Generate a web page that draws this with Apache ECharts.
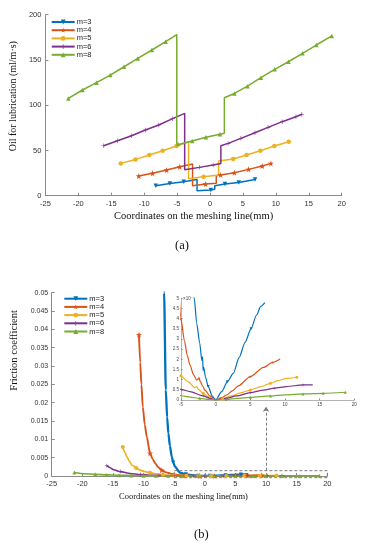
<!DOCTYPE html>
<html><head><meta charset="utf-8">
<script src="https://cdn.jsdelivr.net/npm/echarts@6/dist/echarts.min.js"></script>
<style>html,body{margin:0;padding:0;background:#fff}#c{width:369px;height:550px}</style>
</head><body><div id="c"></div>
<script>
// ---------- shared ----------
const seriesNames = ['m=3', 'm=4', 'm=5', 'm=6', 'm=8'];
const xTicks = [-25, 20, 5];          // min, max, step of the meshing-line axis

// ---------- (a) Oil for lubrication (ml/m·s) ----------
const oil3x = [-8.24, -6.1, -4.0, -1.97, -1.97, 0.12, 0.72, 0.72, 2.27, 4.36, 6.84];
const oil3y = [11.0, 13.6, 15.5, 18.0, 5.5, 6.3, 7.0, 11.0, 12.9, 14.7, 18.0];
const oil4x = [-10.82, -8.73, -6.59, -4.6, -2.65, -2.65, -0.67, 0.95, 0.95, 1.61, 3.7, 5.85, 7.94, 9.24];
const oil4y = [21.7, 24.7, 28.4, 32.0, 35.0, 11.0, 12.9, 13.8, 22.0, 23.0, 25.4, 29.1, 32.8, 35.7];
const oil5x = [-13.56, -11.32, -9.23, -7.19, -5.1, -3.26, -3.26, -0.97, 1.3, 1.3, 3.51, 5.55, 7.64, 9.78, 11.97];
const oil5y = [35.7, 40.1, 44.9, 49.7, 54.9, 59.7, 18.8, 21.0, 23.0, 38.4, 40.5, 44.9, 49.7, 54.9, 59.7];
const oil6x = [-16.14, -14.05, -11.91, -9.82, -7.78, -5.69, -3.85, -3.85, -1.62, 0.47, 1.65, 1.65, 2.75, 4.69, 6.83, 8.82, 10.96, 13.05, 13.95];
const oil6y = [55.2, 60.8, 66.3, 72.6, 78.1, 85.1, 91.0, 28.6, 31.3, 33.9, 35.7, 55.2, 57.8, 63.4, 69.6, 75.5, 81.8, 87.3, 90.0];
const oil8x = [-21.52, -19.38, -17.24, -15.15, -13.06, -10.97, -8.83, -6.74, -5.05, -5.05, -4.86, -2.72, -0.63, 1.51, 2.18, 2.18, 3.7, 5.69, 7.73, 9.82, 11.91, 14.05, 16.14, 18.5];
const oil8y = [107.5, 116.8, 124.9, 133.3, 142.5, 151.7, 161.0, 170.2, 178.0, 56.0, 57.0, 60.4, 64.5, 67.8, 68.9, 108.3, 113.0, 121.0, 130.4, 139.6, 148.0, 157.3, 166.5, 176.5];
const oilTicks = [0, 200, 50];

// ---------- (b) Friction coefficient ----------
const fr3x = [-7.0, -6.65, -6.37, -6.15, -5.95, -5.7, -5.4, -5.15, -4.85, -4.04, -3.5, -3.08, -2.74, -2.3, -2.0, -1.88, -1.82, -1.72, -1.45, -1.07, -0.5, 0, 0.86, 1.7, 2.54, 3.4, 4.22, 5.1, 5.9, 6.5, 7.1];
const fr3y = [0.09, 0.05, 0.0235, 0.016, 0.0116, 0.0082, 0.0053, 0.0037, 0.0025, 0.0009, 0.00065, 0.0005, 0.000377, 0.00028, 0.000195, 0.000212, 0.000145, 0.00016, 0.00011, 0.000066, 0.00002, 0, 0.000041, 0.00009, 0.000131, 0.00021, 0.000282, 0.00035, 0.000418, 0.00046, 0.000479];
const fr4x = [-10.75, -10.55, -10.35, -10.13, -9.8, -9.48, -8.94, -8.5, -8.12, -7.6, -7.03, -6.3, -5.67, -5.0, -4.5, -4.1, -3.7, -3.2, -2.74, -2.4, -2.2, -1.9, -1.55, -0.83, 0, 0.8, 1.6, 2.4, 3.27, 5.0, 6.9, 8.2, 9.3];
const fr4y = [0.0385, 0.031, 0.025, 0.0189, 0.014, 0.0107, 0.0062, 0.0046, 0.0035, 0.0024, 0.0016, 0.001, 0.0007, 0.000397, 0.00029, 0.00022, 0.000172, 0.000125, 0.000098, 0.000107, 0.00009, 0.00007, 0.000049, 0.00002, 0, 0.00001, 0.000025, 0.000045, 0.000069, 0.000115, 0.00016, 0.000185, 0.000202];
const fr5x = [-13.4, -13.0, -12.75, -12.3, -11.93, -11.2, -10.57, -9.8, -8.94, -7.8, -6.8, -6.0, -5.0, -4.0, -3.0, -2.7, -2.5, -1.8, -1.0, 0, 1.0, 2.3, 3.5, 5.0, 6.5, 7.9, 9.0, 10.2, 11.7];
const fr5y = [0.0079, 0.0063, 0.0053, 0.004, 0.003, 0.0022, 0.0016, 0.0012, 0.0009, 0.0006, 0.00035, 0.0002, 0.000118, 0.00009, 0.000061, 0.000066, 0.000052, 0.000033, 0.000015, 0, 0.000006, 0.00002, 0.000034, 0.000049, 0.000066, 0.000082, 0.000095, 0.000106, 0.000112];
const fr6x = [-16.0, -15.4, -14.9, -13.8, -12.2, -10.5, -9.0, -7.5, -6.0, -5.0, -3.7, -1.8, -0.8, 0, 1.5, 3.0, 5.0, 6.9, 8.5, 10.2, 12.6, 14.0];
const fr6y = [0.0028, 0.0022, 0.0017, 0.0012, 0.0007, 0.00042, 0.00026, 0.00015, 0.00008, 0.000052, 0.000041, 0.00002, 0.000008, 0, 0.000008, 0.00002, 0.000036, 0.000049, 0.000058, 0.000066, 0.000074, 0.000074];
const fr8x = [-21.3, -19.6, -17.9, -16.0, -14.0, -12.0, -10.0, -8.0, -6.0, -5.0, -3.7, -2.3, -1.0, 0, 1.5, 3.0, 5.0, 7.9, 10.0, 12.6, 15.5, 18.7];
const fr8y = [0.00095, 0.00062, 0.00045, 0.00032, 0.00022, 0.00015, 0.0001, 0.00007, 0.00004, 0.000021, 0.000014, 0.000008, 0.000003, 0, 0.000003, 0.000008, 0.000013, 0.00002, 0.000025, 0.00003, 0.000033, 0.000038];
const frTicks = [0, 0.05, 0.005];
// zoomed window (inset) and its dashed frame in the main plot
const insetX = [-5, 20, 5];
const insetY = [0, 0.0005, 0.00005];
const boxX = [-5, 20, 20, -5, -5];
const boxY = [-0.00046, -0.00046, 0.00145, 0.00145, -0.00046];
const pointerX = [10, 10];
const pointerY = [0.00145, 0.0189];

// ---------- styling ----------
const colors = ['#0072BD', '#D95319', '#EDB120', '#7E2F8E', '#77AC30'];
const STAR = 'path://M0,-10L2.35,-3.24L9.51,-3.09L3.8,1.24L5.88,8.09L0,4L-5.88,8.09L-3.8,1.24L-9.51,-3.09L-2.35,-3.24Z';
const PLUS = 'path://M-1.3,-10H1.3V-1.3H10V1.3H1.3V10H-1.3V1.3H-10V-1.3H-1.3Z';
const symbols = ['triangle', STAR, 'circle', PLUS, 'triangle'];
const rotations = [180, 0, 0, 0, 0];
const sans = 'Liberation Sans, Arial, sans-serif';
const serif = 'Liberation Serif, Times New Roman, serif';
const axisGray = '#8a8a8a';

const oilX = [oil3x, oil4x, oil5x, oil6x, oil8x];
const oilY = [oil3y, oil4y, oil5y, oil6y, oil8y];
const frX = [fr3x, fr4x, fr5x, fr6x, fr8x];
const frY = [fr3y, fr4y, fr5y, fr6y, fr8y];

function topData(xs, ys) {
  return xs.map((x, i) => {
    const it = { value: [x, ys[i]] };
    const jump = (i > 0 && xs[i - 1] === x) || (i < xs.length - 1 && xs[i + 1] === x);
    if (jump) it.symbol = 'none';
    return it;
  });
}
function spacedData(xs, ys, step) {
  let next = -Infinity;
  return xs.map((x, i) => {
    const it = { value: [x, ys[i]] };
    if (x >= next - 1e-9) next = x + step; else it.symbol = 'none';
    return it;
  });
}
function valAxis(gridIndex, t, extra) {
  return Object.assign({
    type: 'value', gridIndex, min: t[0], max: t[1], interval: t[2],
    axisLine: { show: true, onZero: false, lineStyle: { color: axisGray, width: 1 } },
    axisTick: { show: true, inside: true, length: 3, lineStyle: { color: axisGray } },
    axisLabel: { color: '#333', fontSize: 7.5, fontFamily: sans, margin: 4 },
    splitLine: { show: false }
  }, extra || {});
}

const series = [];
seriesNames.forEach((n, k) => {
  series.push({
    name: n, type: 'line', xAxisIndex: 0, yAxisIndex: 0,
    data: topData(oilX[k], oilY[k]),
    symbol: symbols[k], symbolRotate: rotations[k], symbolSize: k === 1 ? 6 : 4.5,
    showAllSymbol: true,
    lineStyle: { color: colors[k], width: 1.5 },
    itemStyle: { color: colors[k] }, animation: false
  });
});
const mainW = [2.3, 1.9, 1.7, 1.6, 1.6];
seriesNames.forEach((n, k) => {
  series.push({
    name: n, type: 'line', xAxisIndex: 1, yAxisIndex: 1,
    data: spacedData(frX[k], frY[k], 1.75),
    symbol: symbols[k], symbolRotate: rotations[k], symbolSize: k === 1 ? 6 : 4,
    showAllSymbol: true, smooth: 0.25, smoothMonotone: 'x', clip: true,
    lineStyle: { color: colors[k], width: mainW[k] },
    itemStyle: { color: colors[k] }, animation: false
  });
});
seriesNames.forEach((n, k) => {
  series.push({
    name: n, type: 'line', xAxisIndex: 2, yAxisIndex: 2,
    data: spacedData(frX[k], frY[k], 2.6),
    symbol: symbols[k], symbolRotate: rotations[k], symbolSize: 3,
    showAllSymbol: true, smooth: 0.25, smoothMonotone: 'x', clip: true,
    lineStyle: { color: colors[k], width: 1.2 },
    itemStyle: { color: colors[k] }, animation: false
  });
});
series.push({
  name: 'zoom-window', type: 'line', xAxisIndex: 1, yAxisIndex: 1, clip: false, silent: true,
  data: boxX.map((x, i) => [x, boxY[i]]), symbol: 'none',
  lineStyle: { color: '#7a7a7a', width: 1, type: [3, 2] }, animation: false,
  markLine: {
    silent: true, symbol: ['none', 'arrow'], symbolSize: 5, label: { show: false },
    lineStyle: { color: '#7a7a7a', width: 1, type: [3, 2] }, animation: false,
    data: [[{ coord: [pointerX[0], pointerY[0]] }, { coord: [pointerX[1], pointerY[1]] }]]
  }
});

const legendBase = {
  data: seriesNames, orient: 'vertical', padding: 0, itemWidth: 23, itemHeight: 6, itemGap: 0.2,
  symbolRotate: 'inherit', selectedMode: false,
  textStyle: { fontSize: 7.5, fontFamily: sans, color: '#222', padding: [0, 0, 0, -3] }
};

const option = {
  backgroundColor: '#fff',
  animation: false,
  title: [
    { text: '(a)', left: 175, top: 239, padding: 0, textStyle: { fontFamily: serif, fontSize: 12.5, fontWeight: 'normal', color: '#111' } },
    { text: '(b)', left: 194, top: 528, padding: 0, textStyle: { fontFamily: serif, fontSize: 12.5, fontWeight: 'normal', color: '#111' } }
  ],
  legend: [
    Object.assign({}, legendBase, { left: 50.7, top: 18 }),
    Object.assign({}, legendBase, { left: 63.3, top: 294.7 })
  ],
  grid: [
    { left: 40, top: 14.7, width: 301.7, height: 181 },
    { left: 51.7, top: 292.7, width: 275.6, height: 183.3 },
    { left: 181, top: 298.3, width: 173.3, height: 101.7 }
  ],
  xAxis: [
    valAxis(0, xTicks, {
      name: 'Coordinates on the meshing line(mm)', nameLocation: 'middle', nameGap: 15.5,
      nameTextStyle: { fontFamily: serif, fontSize: 10.5, color: '#111' }
    }),
    valAxis(1, xTicks, {
      name: 'Coordinates on the meshing line(mm)', nameLocation: 'middle', nameGap: 16,
      nameTextStyle: { fontFamily: serif, fontSize: 8.5, color: '#111', padding: [0, 12, 0, 0] }
    }),
    valAxis(2, insetX, {
      axisLabel: { color: '#444', fontSize: 4.5, fontFamily: sans, margin: 2 },
      axisTick: { show: true, inside: true, length: 1.5, lineStyle: { color: axisGray } },
      axisLine: { show: true, onZero: false, lineStyle: { color: '#a0a0a0', width: 0.8 } }
    })
  ],
  yAxis: [
    valAxis(0, oilTicks, {
      name: 'Oil for lubrication (ml/m·s)', nameLocation: 'middle', nameGap: 21,
      nameTextStyle: { fontFamily: serif, fontSize: 10, color: '#111', padding: [0, 0, 0, 18] }
    }),
    valAxis(1, frTicks, {
      name: 'Friction coefficient', nameLocation: 'middle', nameGap: 23,
      nameTextStyle: { fontFamily: serif, fontSize: 10.5, color: '#111', padding: [0, 0, 0, 68] },
      axisLabel: { color: '#333', fontSize: 7, fontFamily: sans, margin: 3.5 }
    }),
    valAxis(2, insetY, {
      name: '×10⁻⁴', nameLocation: 'end', nameGap: 1,
      nameTextStyle: { fontFamily: sans, fontSize: 4.5, color: '#444', align: 'left', padding: [0, 0, -4, 2] },
      axisLabel: { color: '#444', fontSize: 4.5, fontFamily: sans, margin: 2,
        formatter: v => String(Math.round(v * 1e5) / 10) },
      axisTick: { show: true, inside: true, length: 1.5, lineStyle: { color: axisGray } },
      axisLine: { show: true, onZero: false, lineStyle: { color: '#a0a0a0', width: 0.8 } }
    })
  ],
  series
};
const chart = echarts.init(document.getElementById('c'), null, { renderer: 'canvas' });
chart.setOption(option);
</script></body></html>
